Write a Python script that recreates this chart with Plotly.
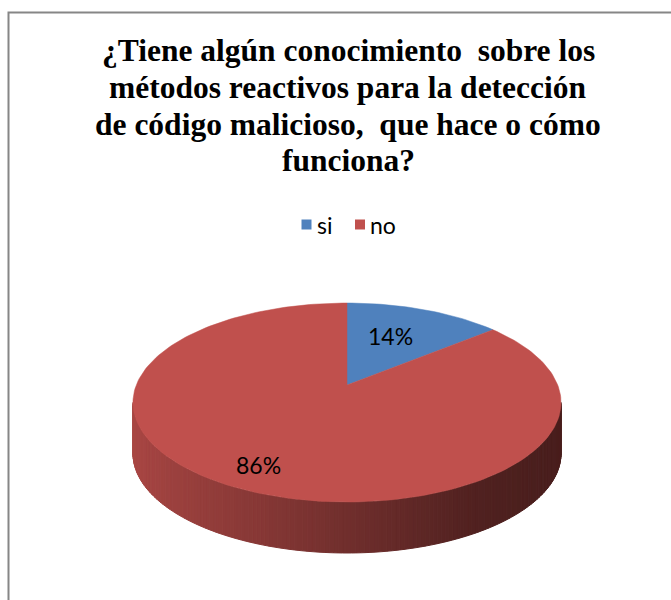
import numpy as np
import plotly.graph_objects as go

# Survey answers
labels = ["si", "no"]
values = [14, 86]
colors = ["#4F81BD", "#C0504D"]

title_lines = [
    "¿Tiene algún conocimiento\u00a0 sobre los",
    "métodos reactivos para la detección",
    "de código malicioso,\u00a0 que hace o cómo",
    "funciona?",
]

# Canvas and 3-D pie geometry (pixel units)
W, H = 671, 600
CX, CY = 347, 385          # pie centre on the top face
A, B, P = 210.7, 96.4, 0.176  # horizontal / vertical radius and perspective
DEPTH = 51                 # thickness of the pie
LABEL_RADIUS = [0.55, 0.84]
LABEL_FONT = dict(family="Lato, Open Sans, sans-serif", size=23, color="#000000")
TITLE_SIZE = 31.5
TITLE_BASELINE0, TITLE_STEP = 61.5, 36.7


def proj(r, t_deg):
    """Project a point of the unit disc (angle clockwise from 12 o'clock)."""
    t = np.radians(t_deg)
    u = r * np.sin(t)
    w = r * np.cos(t)
    d = 1 + P * w
    return CX + A * u / d, CY - B * w / d


def shade(hex_color, f):
    h = hex_color.lstrip("#")
    r, g, b = (int(h[i:i + 2], 16) for i in (0, 2, 4))
    return "rgb({},{},{})".format(int(r * f), int(g * f), int(b * f))


def side_factor(s):
    # left-to-right lighting across the rim
    xs = [0.0, 0.08, 0.3, 0.55, 0.8, 1.0]
    fs = [0.88, 0.82, 0.70, 0.56, 0.42, 0.38]
    return float(np.interp(s, xs, fs))


total = float(sum(values))
bounds = np.concatenate([[0.0], np.cumsum(values) / total * 360.0])

fig = go.Figure()

# Rim: thin strips along the front half, coloured by slice and lighting
x_half = A / np.sqrt(1 - P * P)
t_right = np.degrees(np.arccos(-P))
t_left = 360.0 - t_right
ts = np.linspace(t_right, t_left, 161)
for t0, t1 in zip(ts[:-1], ts[1:]):
    tm = 0.5 * (t0 + t1)
    k = int(np.searchsorted(bounds, tm, side="right") - 1)
    k = min(max(k, 0), len(values) - 1)
    x0, y0 = proj(1, t0)
    x1, y1 = proj(1, t1)
    s = ((x0 + x1) / 2 - (CX - x_half)) / (2 * x_half)
    c = shade(colors[k], side_factor(s))
    fig.add_trace(go.Scatter(
        x=[x0, x1, x1, x0, x0],
        y=[y0, y1, y1 + DEPTH, y0 + DEPTH, y0],
        mode="lines", fill="toself", fillcolor=c,
        line=dict(color=c, width=1), hoverinfo="skip", showlegend=False,
    ))

# Top face wedges
for k, (lab, v) in enumerate(zip(labels, values)):
    a0, a1 = bounds[k], bounds[k + 1]
    arc = np.linspace(a0, a1, max(int((a1 - a0) / 1.5), 8))
    px, py = zip(*[proj(1, t) for t in arc])
    fig.add_trace(go.Scatter(
        x=[CX] + list(px) + [CX],
        y=[CY] + list(py) + [CY],
        mode="lines", fill="toself", fillcolor=colors[k],
        line=dict(color=colors[k], width=0.5),
        name=lab, hoverinfo="name", showlegend=False,
    ))

# Percentage labels
annotations = []
for k, v in enumerate(values):
    mid = 0.5 * (bounds[k] + bounds[k + 1])
    lx, ly = proj(LABEL_RADIUS[k], mid)
    annotations.append(dict(
        x=lx - 2, y=ly - 5, xref="x", yref="y", text="{}%".format(round(v / total * 100)),
        showarrow=False, font=LABEL_FONT, xanchor="center", yanchor="middle",
    ))

# Title, one annotation per line for tighter leading
for i, line in enumerate(title_lines):
    baseline = TITLE_BASELINE0 + i * TITLE_STEP
    annotations.append(dict(
        x=348, y=baseline - 0.3375 * TITLE_SIZE, xref="x", yref="y",
        text="<b>" + line + "</b>",
        showarrow=False, xanchor="center", yanchor="middle", align="center",
        font=dict(family="Liberation Serif, Times New Roman, serif",
                  size=TITLE_SIZE, color="#000000"),
    ))

# Legend: swatch + name for each slice
legend_x = [306.5, 360.0]
legend_y = 224.5
for k, lab in enumerate(labels):
    fig.add_trace(go.Scatter(
        x=[legend_x[k]], y=[legend_y], mode="markers",
        marker=dict(symbol="square", size=10, color=colors[k]),
        hoverinfo="skip", showlegend=False,
    ))
    annotations.append(dict(
        x=legend_x[k] + 8, y=legend_y, xref="x", yref="y", text=lab,
        showarrow=False, font=LABEL_FONT, xanchor="left", yanchor="middle",
    ))

fig.update_layout(
    width=W, height=H,
    margin=dict(l=0, r=0, t=0, b=0),
    paper_bgcolor="white", plot_bgcolor="white",
    xaxis=dict(range=[0, W], visible=False, fixedrange=True),
    yaxis=dict(range=[H, 0], visible=False, fixedrange=True),
    annotations=annotations,
    shapes=[dict(type="rect", xref="x", yref="y", x0=8.5, y0=12.5, x1=W + 20, y1=H + 20,
                 line=dict(color="#868686", width=2), fillcolor="rgba(0,0,0,0)")],
    showlegend=False,
)

fig.write_html("out.html")
